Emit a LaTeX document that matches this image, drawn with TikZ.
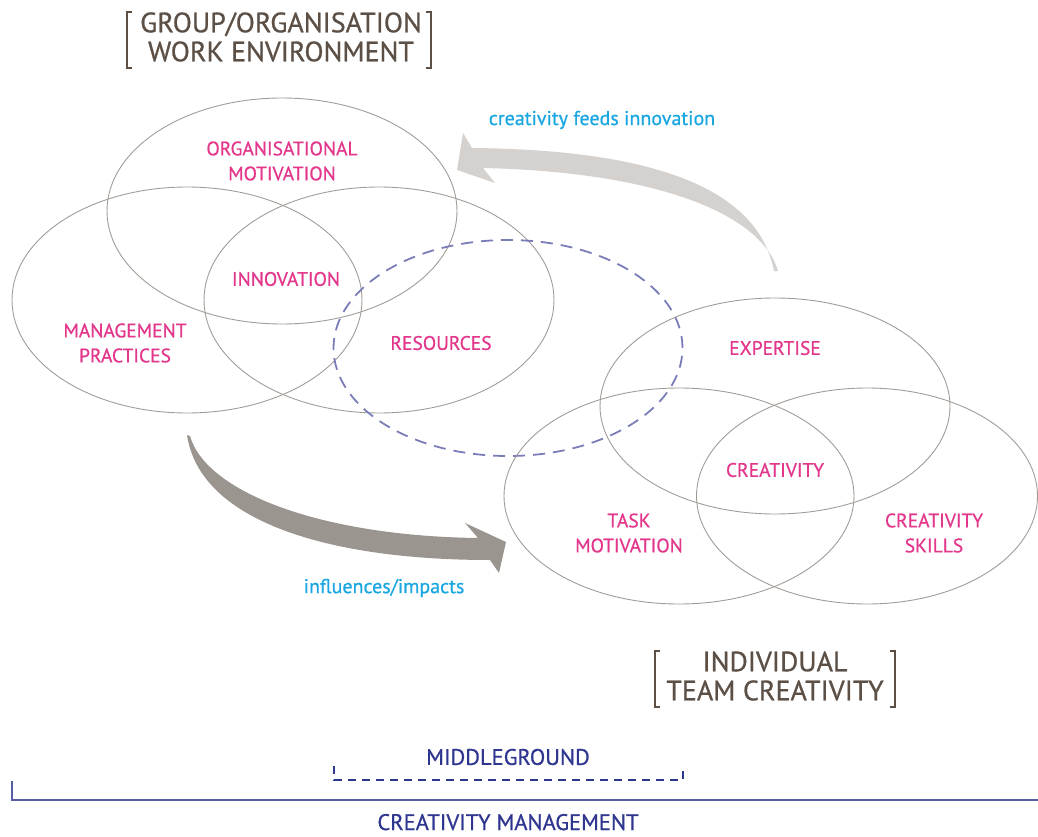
\documentclass[tikz,border=0pt]{standalone}
\usepackage{fontspec}
\setmainfont{PT Sans}
\newfontfamily\dinfont{PT Sans}[FakeBold=0.7]
\usetikzlibrary{shapes.geometric,
                positioning}
\definecolor{ringgray}{HTML}{A29C97}
\definecolor{dashblue}{HTML}{7B7DB9}
\definecolor{factorpink}{HTML}{E2378B}
\definecolor{notecyan}{HTML}{1AA7E1}
\definecolor{titlebrown}{HTML}{5B4F46}
\definecolor{scalenavy}{HTML}{2F3690}
\definecolor{feedgray}{HTML}{D4D1CE}
\definecolor{impactgray}{HTML}{9B958F}
\tikzset{
    ring/.style={draw=ringgray, line width=0.9pt, ellipse, inner sep=0pt,
                 minimum width=350pt, minimum height=226pt},
    lowring/.style={ring, minimum height=216pt},
    factor/.style={text=factorpink, align=center, font=\dinfont\fontsize{19.5}{25}\selectfont},
    note/.style={text=notecyan, font=\dinfont\fontsize{20}{22}\selectfont},
    heading/.style={text=titlebrown, align=center, font=\dinfont\fontsize{28}{29}\selectfont},
    brack/.style={draw=titlebrown, line width=2.6pt},
    scale label/.style={text=scalenavy, font=\dinfont\fontsize{22.5}{24}\selectfont}
}

\begin{document}
\begin{tikzpicture}[x=1pt, y=-1pt]
    \useasboundingbox (0,0) rectangle (1038,837);

    % arrows first, behind the rings
    \coordinate (feedtail) at (774,271);
    \coordinate (feedtip) at (457,170);
    \fill[feedgray] (feedtail) .. controls (760,200) and (680,150) .. (472,148)
        -- (463,133) -- (feedtip) -- (495,183) -- (483,168)
        .. controls (660,172) and (762,215) .. (778,271) -- cycle;

    \coordinate (impacttail) at (187,435);
    \coordinate (impacttip) at (506,542);
    \fill[impactgray] (impacttail) .. controls (200,522) and (330,560) .. (490,560)
        -- (499,573) -- (impacttip) -- (465,523) -- (478,538)
        .. controls (320,536) and (206,492) .. (190,436) -- cycle;

    % work environment rings
    \node[ring] (orgmot) at (282,211) {};
    \node[ring] (mgmt) at (187,300) {};
    \node[ring] (res) at (379,300) {};
    \node[lowring, draw=dashblue, line width=1.8pt, dash pattern=on 12pt off 8pt,
          minimum width=349pt] (middle) at (508,348) {};

    % individual / team rings
    \node[lowring] (expert) at (775,406) {};
    \node[lowring] (task) at (679,496) {};
    \node[lowring, minimum width=341pt] (skills) at (867,496) {};

    \node[factor] (orgmotlbl) at (282,161) {ORGANISATIONAL\\MOTIVATION};
    \node[factor] (innov) at (286,279) {INNOVATION};
    \node[factor] (mgmtlbl) at (125,343) {MANAGEMENT\\PRACTICES};
    \node[factor] (reslbl) at (441,343) {RESOURCES};
    \node[factor] (expertlbl) at (775,348) {EXPERTISE};
    \node[factor] (creat) at (775,470) {CREATIVITY};
    \node[factor] (tasklbl) at (629,533) {TASK\\MOTIVATION};
    \node[factor] (skillslbl) at (934,533) {CREATIVITY\\SKILLS};

    \node[note] (feeds) at (602,120) {creativity feeds innovation};
    \node[note] (impacts) at (384,588) {influences/impacts};

    % headings with brackets
    \node[heading] (envtitle) at (281,37) {GROUP/ORGANISATION\\WORK ENVIRONMENT};
    \draw[brack] (132,12) -- (127,12) -- (127,68) -- (132,68);
    \draw[brack] (426,12) -- (431,12) -- (431,68) -- (426,68);
    \node[heading] (teamtitle) at (775,676) {INDIVIDUAL\\TEAM CREATIVITY};
    \draw[brack] (660,651) -- (655,651) -- (655,707) -- (660,707);
    \draw[brack] (890,651) -- (895,651) -- (895,707) -- (890,707);

    % scale at the bottom
    \node[scale label] (midlbl) at (508,757) {MIDDLEGROUND};
    \coordinate (midleft) at (334,766);
    \coordinate (midright) at (683,766);
    \draw[scalenavy, line width=1.6pt, dash pattern=on 8pt off 6pt]
        (midleft) -- (334,780) -- (683,780) -- (midright);
    \coordinate (mgmtleft) at (12,781);
    \coordinate (mgmtright) at (1038,800);
    \draw[scalenavy!80, line width=1.2pt] (mgmtleft) -- (12,800) -- (mgmtright);
    \node[scale label, inner sep=0pt, anchor=base] (mgmtlbl) at (508,830) {CREATIVITY MANAGEMENT};
\end{tikzpicture}
\end{document}
